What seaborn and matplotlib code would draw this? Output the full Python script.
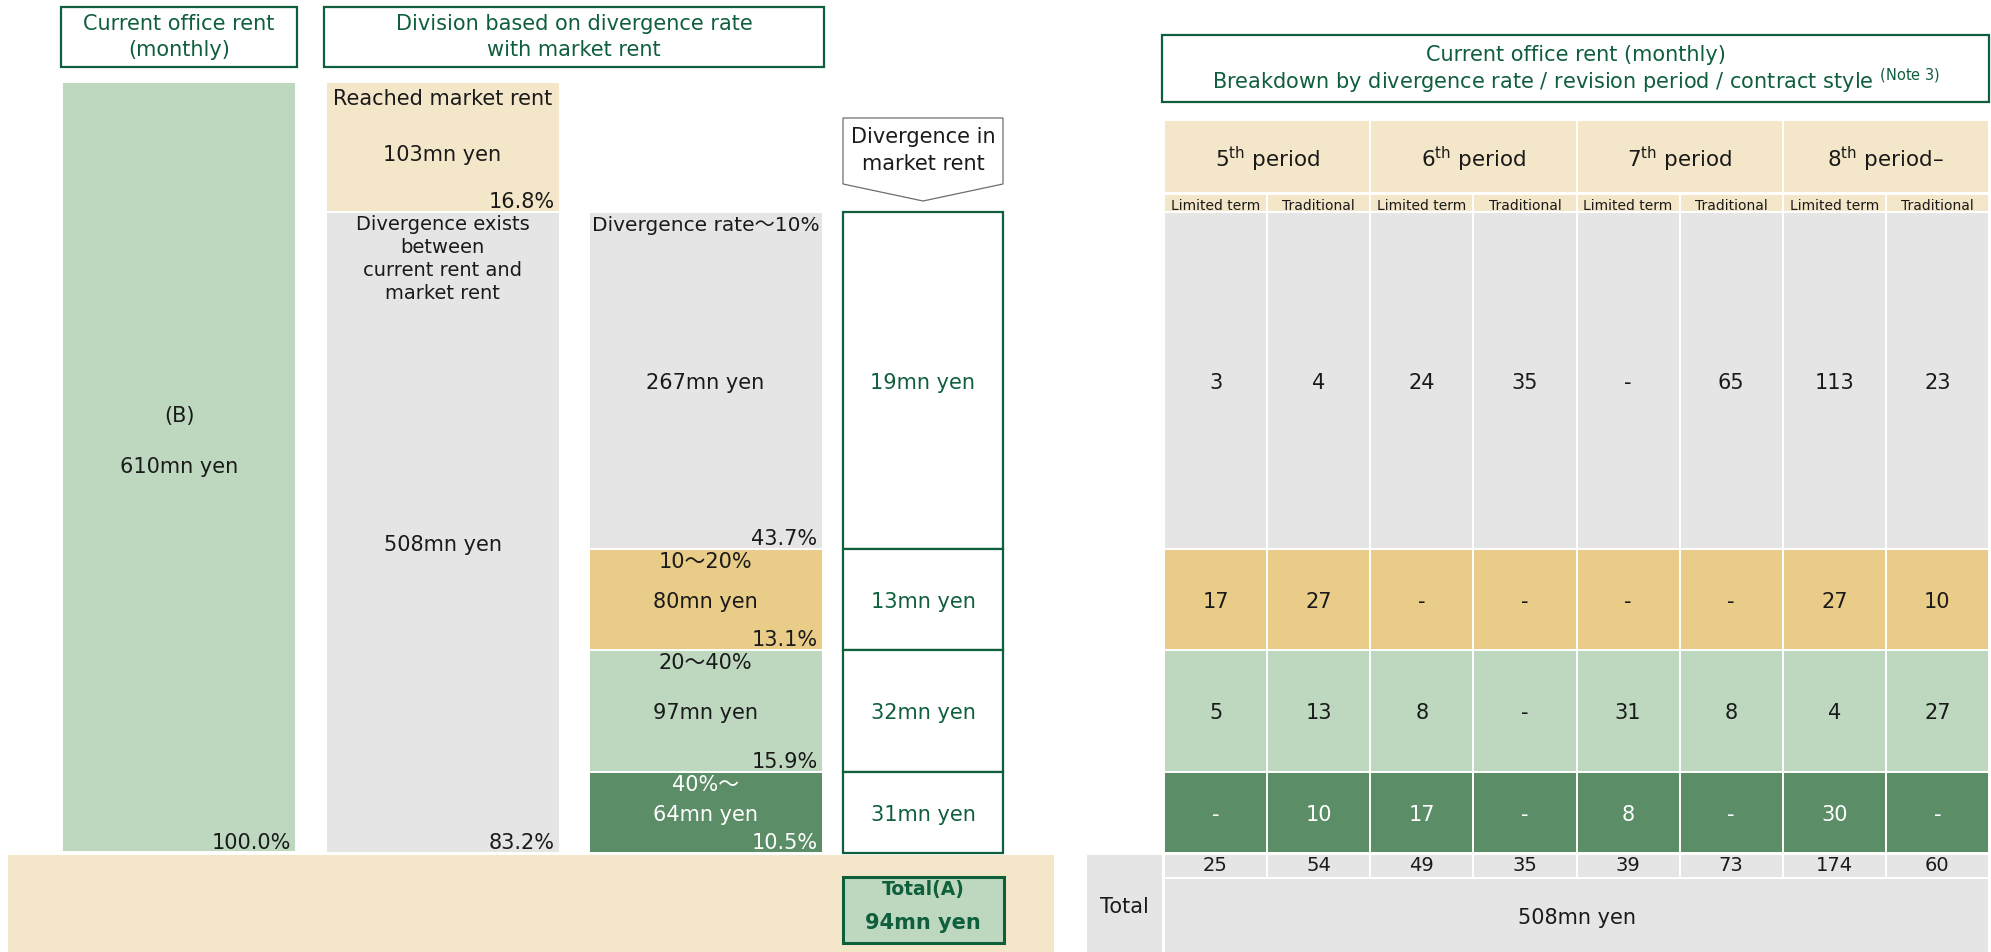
import numpy as np
import matplotlib.pyplot as plt
from matplotlib.patches import Rectangle, Polygon
import seaborn as sns

# monthly rent, mn yen
total_rent = 610
reached_rent = 103
divergent_rent = 508
total_share = "100.0%"
reached_share = "16.8%"
divergent_share = "83.2%"

band_labels = ["Divergence rate～10%", "10～20%", "20～40%", "40%～"]
band_rent = [267, 80, 97, 64]
band_share = ["43.7%", "13.1%", "15.9%", "10.5%"]
band_gap = [19, 13, 32, 31]
gap_total = 94

periods = ["5", "6", "7", "8"]
period_suffix = ["", "", "", "–"]
contract_types = ["Limited term", "Traditional"]

# rows = divergence bands, cols = period x contract type, None -> "-"
table_values = [
    [3, 4, 24, 35, None, 65, 113, 23],
    [17, 27, None, None, None, None, 27, 10],
    [5, 13, 8, None, 31, 8, 4, 27],
    [None, 10, 17, None, 8, None, 30, None],
]
column_totals = [25, 54, 49, 35, 39, 73, 174, 60]

# colours
GREEN_LIGHT = "#bdd8be"
GREEN_DARK = "#5b8d66"
BEIGE = "#f4e6c8"
GOLD = "#e8cc88"
GRAY = "#e5e5e5"
DKGREEN = "#0f5e3c"
TXT = "#1a1a1a"
band_colors = [GRAY, GOLD, GREEN_LIGHT, GREEN_DARK]
band_text = [TXT, TXT, TXT, "white"]

sns.set_theme(style="white")
plt.rcParams["font.family"] = ["DejaVu Sans", "Noto Sans CJK JP"]

W, H = 1991, 952
TOP_PX, BOT_PX = 82, 852
PX = (BOT_PX - TOP_PX) / total_rent  # pixels per mn yen


def yv(py):
    # pixel row -> value on the rent axis
    return (py - TOP_PX) / PX


def off(px):
    return px / PX


fig = plt.figure(figsize=(W / 100, H / 100), dpi=100)
ax = fig.add_axes([0, 0, 1, 1])


def stacked(xs, heights, bottoms, width, color, **kw):
    xs = np.asarray(xs, dtype=float)
    step = np.diff(xs).min() if len(xs) > 1 else 1.0
    sns.barplot(x=xs, y=heights, bottom=bottoms, native_scale=True,
                width=width / step, color=color, saturation=1,
                errorbar=None, ax=ax, **kw)


def txt(x, y, s, size=15, color=TXT, **kw):
    kw.setdefault("ha", "center")
    kw.setdefault("va", "center")
    ax.text(x, y, s, fontsize=size, color=color, **kw)


COL_X = [179, 442.5, 705.5]
COL_W = 234
BOX_X, BOX_W = 923, 160
edge = dict(edgecolor="white", linewidth=1.4)

# ---- title boxes
for x0, w, lines in [(61, 236, ["Current office rent", "(monthly)"]),
                     (324, 500, ["Division based on divergence rate", "with market rent"])]:
    ax.add_patch(Rectangle((x0, yv(7)), w, yv(67) - yv(7), fc="white", ec=DKGREEN, lw=1.6))
    txt(x0 + w / 2, yv(24), lines[0], color=DKGREEN)
    txt(x0 + w / 2, yv(50), lines[1], color=DKGREEN)

ax.add_patch(Rectangle((1162, yv(35)), 827, yv(102) - yv(35), fc="white", ec=DKGREEN, lw=1.6))
txt(1576, yv(55), "Current office rent (monthly)", color=DKGREEN)
txt(1576, yv(81), r"Breakdown by divergence rate / revision period / contract style $^{\mathrm{(Note\ 3)}}$",
    color=DKGREEN)

# ---- column 1: whole rent
stacked([COL_X[0]], [total_rent], [0], COL_W, GREEN_LIGHT, **edge)
txt(COL_X[0], total_rent / 2 - off(51), "(B)")
txt(COL_X[0], total_rent / 2, f"{total_rent}mn yen")
txt(COL_X[0] + COL_W / 2 - 5, total_rent - off(3), total_share, ha="right", va="baseline")

# ---- column 2: reached / divergent
stacked([COL_X[1]], [reached_rent], [0], COL_W, BEIGE, **edge)
stacked([COL_X[1]], [divergent_rent], [reached_rent], COL_W, GRAY, **edge)
txt(COL_X[1], off(17), "Reached market rent")
txt(COL_X[1], reached_rent / 2 + off(8), f"{reached_rent}mn yen")
txt(COL_X[1] + COL_W / 2 - 5, reached_rent - off(4), reached_share, ha="right", va="baseline")
for i, line in enumerate(["Divergence exists", "between", "current rent and", "market rent"]):
    txt(COL_X[1], reached_rent + off(12 + 23 * i), line, size=14)
txt(COL_X[1], reached_rent + divergent_rent / 2 + off(12), f"{divergent_rent}mn yen")
txt(COL_X[1] + COL_W / 2 - 5, reached_rent + divergent_rent - off(4), divergent_share,
    ha="right", va="baseline")

# ---- column 3 + divergence boxes
band_bottom = reached_rent + np.concatenate([[0], np.cumsum(band_rent)[:-1]])
for i in range(len(band_rent)):
    b, h = band_bottom[i], band_rent[i]
    stacked([COL_X[2]], [h], [b], COL_W, band_colors[i], **edge)
    stacked([BOX_X], [h], [b], BOX_W, "white", edgecolor=DKGREEN, linewidth=1.6)
    txt(COL_X[2], b + off(13), band_labels[i], size=14.5 if i == 0 else 15, color=band_text[i])
    txt(COL_X[2], b + h / 2 + off(2), f"{h}mn yen", color=band_text[i])
    txt(COL_X[2] + COL_W / 2 - 5, b + h - off(4), band_share[i], color=band_text[i],
        ha="right", va="baseline")
    txt(BOX_X, b + h / 2 + off(2), f"{band_gap[i]}mn yen", color=DKGREEN)

# arrow header over the divergence boxes
arrow = [(843, 118), (1003, 118), (1003, 184), (923, 201), (843, 184)]
ax.add_patch(Polygon([(x, yv(y)) for x, y in arrow], closed=True, fc="white", ec="#6e6e6e", lw=0.9))
txt(BOX_X, yv(137), "Divergence in")
txt(BOX_X, yv(164), "market rent")

# ---- bottom band with total
ax.add_patch(Rectangle((8, yv(855)), 1046, yv(952) - yv(855), fc=BEIGE, ec="none"))
ax.add_patch(Rectangle((843, yv(877)), 161, yv(943) - yv(877), fc=GREEN_LIGHT, ec=DKGREEN, lw=2.2))
txt(BOX_X, yv(890), "Total(A)", size=13.5, color=DKGREEN, weight="bold")
txt(BOX_X, yv(923), f"{gap_total}mn yen", size=15, color=DKGREEN, weight="bold")

# ---- right table
n_cols = len(column_totals)
T_X0, T_X1 = 1164, 1989
step = (T_X1 - T_X0) / n_cols
tx = T_X0 + step * (np.arange(n_cols) + 0.5)

for p in range(len(periods)):
    x0 = T_X0 + 2 * p * step
    ax.add_patch(Rectangle((x0, yv(120)), 2 * step, yv(193) - yv(120), fc=BEIGE, ec="white", lw=1.4))
    txt(x0 + step, yv(159), rf"{periods[p]}$^{{\mathrm{{th}}}}$ period{period_suffix[p]}", size=15.5)
for c in range(n_cols):
    ax.add_patch(Rectangle((T_X0 + c * step, yv(194)), step, yv(216) - yv(194), fc=BEIGE, ec="white", lw=1.4))
    txt(tx[c], yv(206), contract_types[c % 2], size=10)

for r in range(len(band_rent)):
    stacked(tx, [band_rent[r]] * n_cols, [band_bottom[r]] * n_cols, step, band_colors[r], **edge)
    for c in range(n_cols):
        v = table_values[r][c]
        txt(tx[c], band_bottom[r] + band_rent[r] / 2 + off(2), "-" if v is None else str(v),
            color=band_text[r])

# totals
ax.add_patch(Rectangle((1087, yv(855)), 75, yv(952) - yv(855), fc=GRAY, ec="none"))
txt(1124, yv(907), "Total")
for c in range(n_cols):
    ax.add_patch(Rectangle((T_X0 + c * step, yv(854)), step, yv(878) - yv(854), fc=GRAY, ec="white", lw=1.4))
    txt(tx[c], yv(866), str(column_totals[c]), size=14)
ax.add_patch(Rectangle((T_X0, yv(878)), T_X1 - T_X0, yv(953) - yv(878), fc=GRAY, ec="white", lw=1.4))
txt((T_X0 + T_X1) / 2, yv(918), f"{divergent_rent}mn yen")

ax.set_xlim(0, W)
ax.set_ylim(yv(H), yv(0))
ax.axis("off")

fig.savefig("out.png", dpi=100)
